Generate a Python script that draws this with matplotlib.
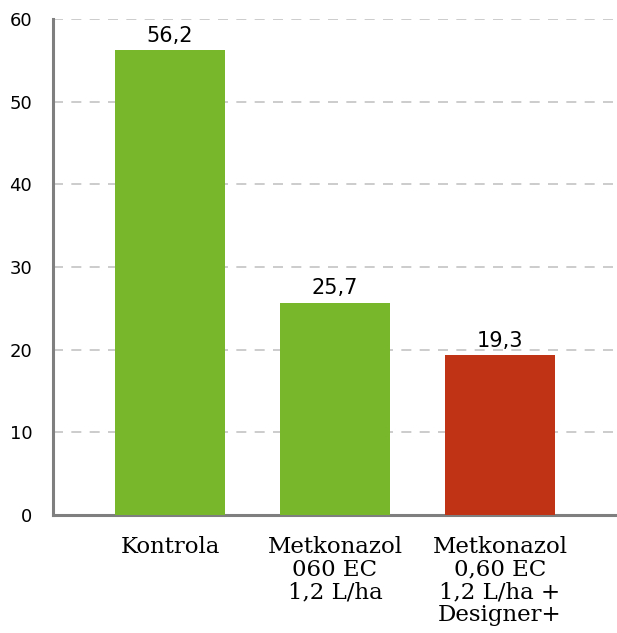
import matplotlib
matplotlib.use("Agg")
import matplotlib.pyplot as plt

categories = ["Kontrola", "Metkonazol\n060 EC\n1,2 L/ha", "Metkonazol\n0,60 EC\n1,2 L/ha +\nDesigner+"]
values = [56.2, 25.7, 19.3]
value_labels = ["56,2", "25,7", "19,3"]
bar_colors = ["#78b72b", "#78b72b", "#c03415"]
yticks = [0, 10, 20, 30, 40, 50, 60]

fig = plt.figure(figsize=(6.17, 6.33), dpi=100)
ax = fig.add_axes([53 / 617, 1 - 515 / 633, 1 - 53 / 617, (515 - 19) / 633])

x = list(range(len(categories)))
ax.bar(x, values, width=0.667, color=bar_colors, zorder=3)

for xi, v, lab in zip(x, values, value_labels):
    ax.annotate(lab, (xi, v), xytext=(0, 3), textcoords="offset points",
                ha="center", va="bottom", fontsize=15, family="DejaVu Sans")

ax.set_xlim(-0.709, 2.709)
ax.set_ylim(0, 60)
ax.set_yticks(yticks)
ax.set_yticklabels([str(t) for t in yticks], fontsize=13, family="DejaVu Sans")
ax.tick_params(axis="y", length=0, pad=15)
ax.tick_params(axis="x", length=0, pad=15)
ax.set_xticks(x)
ax.set_xticklabels(categories, fontsize=16.5, family="DejaVu Serif", linespacing=1.05, va="top")

ax.yaxis.grid(True, color="#c4c4c4", linestyle=(0, (6, 5)), linewidth=1.2, zorder=0)
for s in ["top", "right"]:
    ax.spines[s].set_visible(False)
for s in ["left", "bottom"]:
    ax.spines[s].set_color("#7f7f7f")
    ax.spines[s].set_linewidth(2.2)

fig.savefig("out.png", dpi=100)
